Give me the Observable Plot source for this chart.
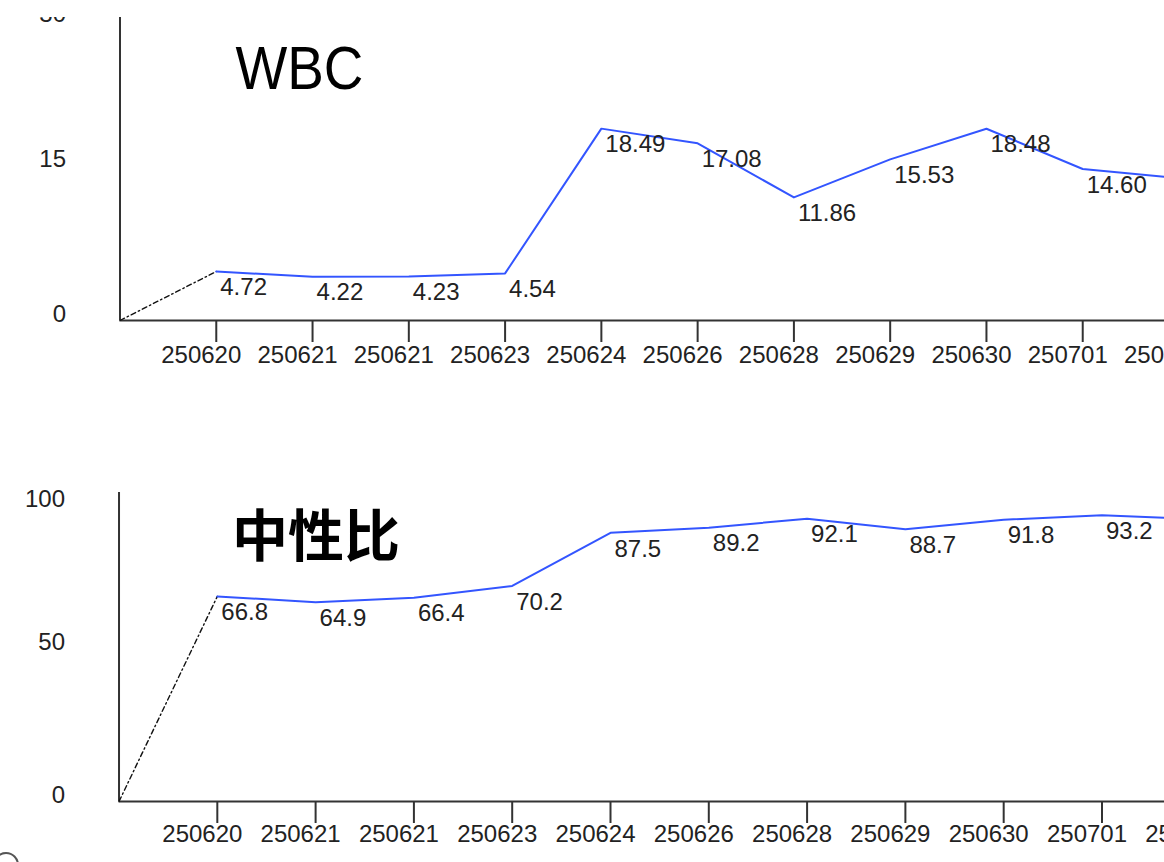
<!DOCTYPE html>
<html>
<head>
<meta charset="utf-8">
<script src="https://cdn.jsdelivr.net/npm/d3@7"></script>
<script src="https://cdn.jsdelivr.net/npm/@observablehq/plot@0.6"></script>
<style>
html, body { margin: 0; padding: 0; background: #fff; }
#wrap { position: relative; width: 1164px; height: 862px; overflow: hidden; background: #fff; }
#top, #bottom { position: absolute; left: 0; width: 1300px; }
#top { top: 0; }
#bottom { top: 470px; }
#mask { position: absolute; left: 0; top: 0; width: 1164px; height: 17px; background: #fff; z-index: 5; }
#btn { position: absolute; left: -7px; top: 852px; width: 22px; height: 22px; border: 2px solid #555; border-radius: 50%; }
</style>
</head>
<body>
<div id="wrap">
  <div id="top"></div>
  <div id="bottom"></div>
  <div id="mask"></div>
  <div id="btn"></div>
</div>
<script>
// ---- data ----
const dates = ["250620", "250621", "250621", "250623", "250624", "250626", "250628", "250629", "250630", "250701", "250702"];
const wbc = [4.72, 4.22, 4.23, 4.54, 18.49, 17.08, 11.86, 15.53, 18.48, 14.60, 13.72];
const neut = [66.8, 64.9, 66.4, 70.2, 87.5, 89.2, 92.1, 88.7, 91.8, 93.2, 92.0];
const wbcTicks = [0, 15, 30];
const neutTicks = [0, 50, 100];
const wbcTitle = "WBC";
const neutTitle = "中性比";

const NUM_FONT = "'Liberation Sans', Arial, sans-serif";

function chart(o) {
  const pts = o.values.map((v, k) => ({i: k + 1, v, label: v.toFixed(o.digits), date: dates[k]}));
  const idx = pts.map(d => d.i);
  const lead = [{i: 0, v: 0}, pts[0]];
  const topTick = o.ticks[o.ticks.length - 1];
  const svg = Plot.plot({
    width: o.width,
    height: o.height,
    marginLeft: o.marginLeft,
    marginTop: o.marginTop,
    marginRight: 20,
    marginBottom: 60,
    style: {background: "transparent", overflow: "visible", maxWidth: "none", fontFamily: NUM_FONT},
    x: {type: "linear", domain: [0, o.values.length], axis: null},
    y: {type: "linear", domain: [0, o.yMax], axis: null},
    marks: [
      Plot.axisX(idx, {tickSize: 22, tickFormat: () => "", stroke: "#333", strokeWidth: 2}),
      Plot.ruleY([0], {stroke: "#333", strokeWidth: 2}),
      Plot.ruleX([0], {stroke: "#333", strokeWidth: 2}),
      Plot.line(lead, {x: "i", y: "v", stroke: "#111", strokeWidth: 1.4, strokeDasharray: "5,3,1.5,3"}),
      Plot.line(pts, {x: "i", y: "v", stroke: "#3355ff", strokeWidth: 2}),
      Plot.text(pts, {x: "i", y: "v", text: "label", dx: 4, dy: 16, textAnchor: "start", fontSize: 24, fill: "#222"}),
      Plot.text(pts, {x: "i", text: "date", frameAnchor: "bottom", dx: -15, dy: o.dateDy, fontSize: 24, fill: "#222"}),
      Plot.text(o.ticks.slice(0, -1), {x: () => 0, y: d => d, text: d => String(d), dx: -54, dy: -6, textAnchor: "end", fontSize: 24, fill: "#222"}),
      Plot.text([topTick], {x: () => 0, y: d => d, text: d => String(d), dx: -54, dy: 5, textAnchor: "end", fontSize: 24, fill: "#222"}),
      Plot.text([o.title], {frameAnchor: "top-left", text: d => d, dx: o.titleDx, dy: o.titleDy, lineAnchor: "bottom", textAnchor: "start", fontSize: o.titleSize, fontFamily: o.titleFont, fontWeight: o.titleWeight, fill: "#000"})
    ]
  });
  if (o.titleLength) {
    d3.select(svg).selectAll("text").filter(function () { return this.textContent === o.title; })
      .attr("textLength", o.titleLength).attr("lengthAdjust", "spacingAndGlyphs");
  }
  return svg;
}

document.getElementById("top").appendChild(chart({
  values: wbc, digits: 2, ticks: wbcTicks, yMax: 29.2,
  width: 1198.5, height: 380, marginLeft: 119.5, marginTop: 17, dateDy: 42,
  title: wbcTitle, titleDx: 115.5, titleDy: 71, titleSize: 62, titleFont: NUM_FONT, titleWeight: "normal", titleLength: 128
}));

document.getElementById("bottom").appendChild(chart({
  values: neut, digits: 1, ticks: neutTicks, yMax: 100.65,
  width: 1219.8, height: 391, marginLeft: 118.5, marginTop: 22, dateDy: 41,
  title: neutTitle, titleDx: 113, titleDy: 64, titleSize: 56, titleFont: "'Noto Sans CJK SC', sans-serif", titleWeight: "bold"
}));
</script>
</body>
</html>
